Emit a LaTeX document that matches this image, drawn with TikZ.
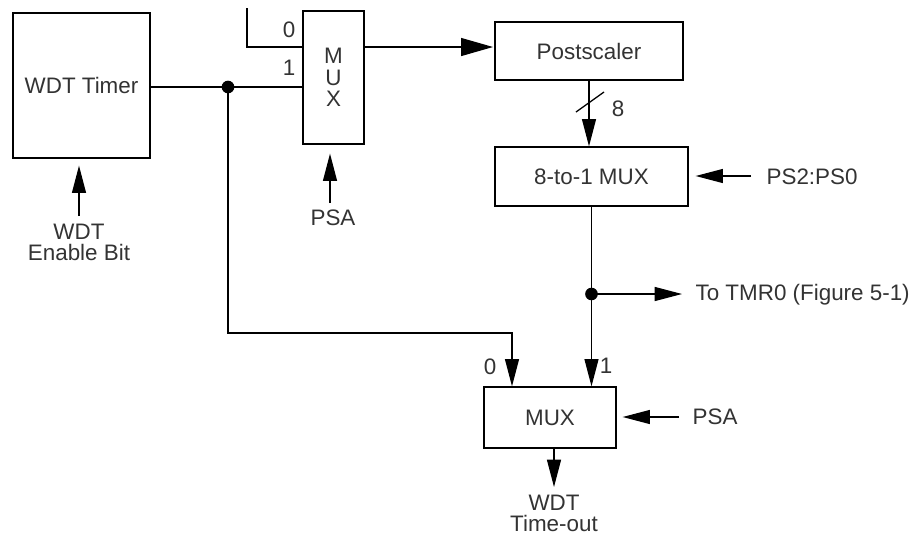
\documentclass[tikz,border=0pt]{standalone}
\usepackage{fontspec}
\setmainfont{Liberation Sans}
\usetikzlibrary{arrows.meta}
\begin{document}
\begin{tikzpicture}[x=0.75pt,y=-0.75pt, line width=0.95pt,
 font=\fontsize{16.8}{16}\selectfont,
 box/.style={draw, rectangle, inner sep=0pt, text=black!80},
 lbl/.style={inner sep=0pt, text=black!80},
 arr/.style={-{Triangle[length=20.5pt,width=10.5pt]}},
 bigarr/.style={-{Triangle[length=24pt,width=13.5pt]}},
 dot/.style={circle, fill, inner sep=0pt, minimum size=9.5pt}]
\useasboundingbox (0,0) rectangle (911,537);
% boxes
\node[box, minimum width=102.75pt, minimum height=108.75pt] (wdt) at (81.5,85.5) {WDT Timer};
\node[box, minimum width=45.75pt, minimum height=99.75pt, align=center] (mux1) at (333.5,77.5) {M\\U\\X};
\node[box, minimum width=141pt, minimum height=43.5pt] (post) at (589,51) {Postscaler};
\node[box, minimum width=144.75pt, minimum height=44.25pt] (mux8) at (591.5,176.5) {8-to-1 MUX};
\node[box, minimum width=99pt, minimum height=45.75pt] (mux3) at (550,417.5) {MUX};
% labels
\node[lbl, align=center] (en) at (79,242.5) {WDT\\Enable Bit};
\node[lbl] (psa1) at (333,218) {PSA};
\node[lbl, anchor=west] (ps) at (766,177) {PS2:PS0};
\node[lbl, anchor=west] (tmr) at (695,295) {To TMR0 (Figure 5-1)};
\node[lbl, anchor=west] (psa2) at (692,417) {PSA};
\node[lbl, align=center] (to) at (554,513.5) {WDT\\Time-out};
\node[lbl] (l0a) at (289,30) {0};
\node[lbl] (l1a) at (289,68) {1};
\node[lbl] (l8) at (618,109) {8};
\node[lbl] (l0b) at (490,367) {0};
\node[lbl] (l1b) at (606,366) {1};
% coordinates
\coordinate (j1) at (228,87);
\coordinate (j2) at (591.5,294);
\coordinate (in0) at (247,8);
\coordinate (y0) at (0,47);
\coordinate (c0) at (512,333);
\coordinate (enb) at (79,216);
\coordinate (psab) at (330,203);
\coordinate (psin) at (751,176);
\coordinate (p2) at (679,417);
\coordinate (outb) at (554,487);
% connectors
\draw (wdt.east |- j1) -- (j1) -- (mux1.west |- j1);
\draw (in0) |- (mux1.west |- y0);
\draw[bigarr, shorten >=1pt] (mux1.east |- y0) -- (post.west |- y0);
\draw[arr] (post.south) -- (post.south |- mux8.north);
\draw (576,112) -- (604,92);
\draw[arr, shorten >=5.25pt] (psin) -- (mux8.east |- psin);
\draw[arr] (mux8.south) -- (j2) -- (j2 |- mux3.north);
\draw[arr, shorten >=9.75pt] (j2) -- (tmr.west |- j2);
\draw[arr] (j1) |- (c0) -- (c0 |- mux3.north);
\draw[arr, shorten >=4.5pt] (p2) -- (mux3.east |- p2);
\draw[arr, shorten >=6.75pt] (psab) -- (psab |- mux1.south);
\draw[arr, shorten >=5.25pt] (enb) -- (enb |- wdt.south);
\draw[arr] (outb |- mux3.south) -- (outb);
% junction dots
\node[dot] (d1) at (j1) {};
\node[dot] (d2) at (j2) {};
\end{tikzpicture}
\end{document}
